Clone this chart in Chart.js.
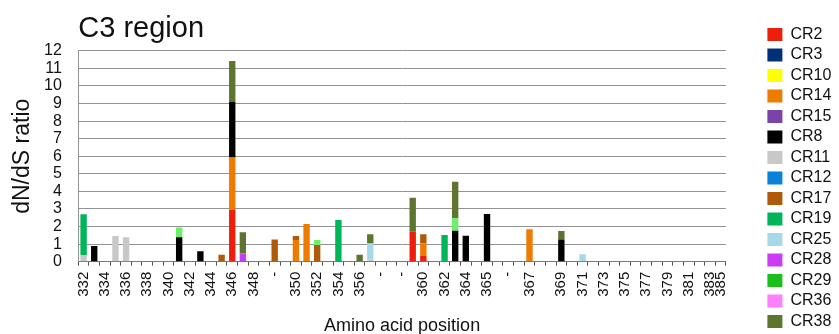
<!DOCTYPE html>
<html>
<head>
<meta charset="utf-8">
<script src="https://cdn.jsdelivr.net/npm/chart.js"></script>
<style>
  html, body { margin: 0; padding: 0; background: #ffffff; }
  #wrap { width: 839px; height: 334px; }
</style>
</head>
<body>
<div id="wrap"><canvas id="chart" width="839" height="334"></canvas></div>
<script>
// Amino acid positions along the C3 region (empty string = unlabelled column, "-" = insertion)
const positions = [
  '332', '', '334', '', '336', '', '338', '', '340', '', '342', '', '344', '', '346', '', '348', '',
  '-', '', '350', '', '352', '', '354', '', '356', '', '-', '', '-', '', '360', '', '362', '', '364', '',
  '365', '', '-', '', '367', '', '', '369', '', '371', '', '373', '', '375', '', '377', '', '379', '',
  '381', '', '383', '385'
];

// y-axis tick values
const yTicks = [0, 1, 2, 3, 4, 5, 6, 7, 8, 9, 10, 11, 12];

// dN/dS ratio per clone, keyed by column index in `positions`
const CR2  = { 14: 2.94, 31: 1.70, 32: 0.32 };
const CR3  = {};
const CR10 = {};
const CR14 = { 14: 2.99, 20: 1.23, 21: 2.14, 32: 0.72, 42: 1.84 };
const CR15 = {};
const CR8  = { 1: 0.89, 9: 1.39, 11: 0.59, 14: 3.16, 35: 1.76, 36: 1.48, 38: 2.71, 45: 1.27 };
const CR11 = { 0: 0.38, 3: 1.46, 4: 1.39, 27: 0.12 };
const CR12 = {};
const CR17 = { 13: 0.40, 18: 1.27, 20: 0.23, 22: 0.95, 32: 0.52 };
const CR19 = { 0: 2.32, 24: 2.37, 34: 1.52 };
const CR25 = { 27: 0.92, 47: 0.42 };
const CR28 = { 15: 0.48 };
const CR29 = {};
const CR36 = {};
const CR37 = { 9: 0.56, 22: 0.28, 35: 0.71 };
const CR38 = { 14: 2.33, 15: 1.19, 26: 0.40, 27: 0.52, 31: 1.94, 35: 2.08, 45: 0.47 };

// Series in stacking order (bottom to top)
const seriesNames  = ['CR2', 'CR3', 'CR10', 'CR14', 'CR15', 'CR8', 'CR11', 'CR12', 'CR17', 'CR19', 'CR25', 'CR28', 'CR29', 'CR36', 'CR37', 'CR38'];
const seriesValues = [CR2, CR3, CR10, CR14, CR15, CR8, CR11, CR12, CR17, CR19, CR25, CR28, CR29, CR36, CR37, CR38];
const seriesColors = ['#ec1e0c', '#00307a', '#ffff00', '#ee7b00', '#7b42a8', '#000000', '#c8c8c8', '#0a82d8',
                      '#ae5a0a', '#00b45a', '#a6d8e8', '#cc3cf5', '#1cbe1c', '#ff80ff', '#6cf06c', '#5e7530'];
// Clones drawn in the stacks but left out of the legend
const legendHidden = ['CR37'];

const FONT = 'Liberation Sans, Arial, Helvetica, sans-serif';

const datasets = seriesNames.map((name, k) => ({
  label: name,
  data: positions.map((_, i) => (seriesValues[k][i] !== undefined ? seriesValues[k][i] : null)),
  backgroundColor: seriesColors[k],
  borderWidth: 0
}));

new Chart(document.getElementById('chart'), {
  type: 'bar',
  data: { labels: positions, datasets },
  options: {
    responsive: false,
    animation: false,
    devicePixelRatio: 1,
    layout: { padding: { left: 0, right: -2.3, top: 0, bottom: 0 } },
    datasets: { bar: { categoryPercentage: 1, barPercentage: 0.6 } },
    plugins: {
      title: {
        display: true,
        text: 'C3 region',
        align: 'start',
        fullSize: false,
        color: '#111111',
        font: { family: FONT, size: 29, weight: 'normal' },
        padding: { top: 12, bottom: 4 }
      },
      legend: {
        position: 'right',
        align: 'end',
        labels: {
          boxWidth: 15,
          boxHeight: 13,
          padding: 4.5,
          color: '#111111',
          font: { family: FONT, size: 16 },
          filter: item => !legendHidden.includes(item.text)
        }
      },
      tooltip: { enabled: false }
    },
    scales: {
      x: {
        stacked: true,
        offset: true,
        grid: { display: true, drawOnChartArea: false, drawTicks: true, tickLength: 4, color: '#555555', lineWidth: 1 },
        border: { display: true, color: '#777777' },
        ticks: {
          autoSkip: false,
          minRotation: 90,
          maxRotation: 90,
          padding: 6,
          color: '#111111',
          font: { family: FONT, size: 15 }
        },
        title: {
          display: true,
          text: 'Amino acid position',
          color: '#111111',
          font: { family: FONT, size: 18 },
          padding: { top: 0, bottom: -3 }
        },
        afterFit(scale) { scale.height = 72.3; }
      },
      y: {
        stacked: true,
        min: yTicks[0],
        max: yTicks[yTicks.length - 1],
        afterBuildTicks(scale) { scale.ticks = yTicks.map(v => ({ value: v })); },
        ticks: { autoSkip: false, padding: 16.5, color: '#111111', font: { family: FONT, size: 16 } },
        grid: { color: '#939393', drawTicks: false },
        border: { display: true, color: '#939393' },
        title: {
          display: true,
          text: 'dN/dS ratio',
          color: '#111111',
          font: { family: FONT, size: 23 },
          padding: { top: 9, bottom: 0 }
        },
        afterFit(scale) { scale.width = 78.3; }
      },
      gap: {
        position: 'right',
        display: true,
        grid: { display: false, drawTicks: false },
        border: { display: false },
        ticks: { display: false },
        afterFit(scale) { scale.width = 37; }
      }
    }
  }
});
</script>
</body>
</html>
